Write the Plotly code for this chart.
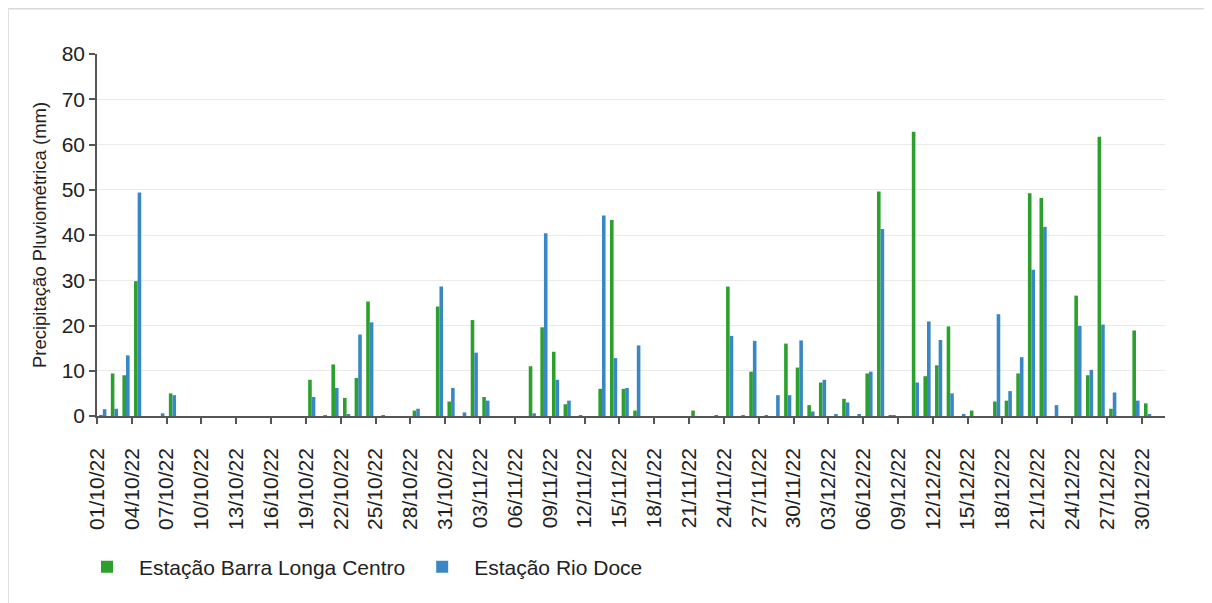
import plotly.graph_objects as go
import pandas as pd

# Daily rainfall (mm), 01/10/2022 .. 31/12/2022
dates = pd.date_range("2022-10-01", "2022-12-31", freq="D")

barra_longa = [
    0.2, 9.4, 9.0, 29.8, 0, 0, 5.0, 0, 0, 0,          # 01-10 Oct
    0, 0, 0, 0, 0, 0, 0, 0, 8.0, 0,                   # 11-20 Oct
    11.4, 4.0, 8.4, 25.3, 0, 0, 0, 1.2, 0, 24.2,      # 21-30 Oct
    3.2,                                              # 31 Oct
    0, 21.2, 4.2, 0, 0, 0, 11.0, 19.6, 14.2, 2.6,     # 01-10 Nov
    0, 0, 6.0, 43.3, 6.0, 1.2, 0, 0, 0, 0,            # 11-20 Nov
    1.2, 0, 0.2, 28.6, 0, 9.8, 0, 0, 16.0, 10.7,      # 21-30 Nov
    2.4, 7.4, 0, 3.8, 0, 9.4, 49.6, 0.2, 0, 62.8,     # 01-10 Dec
    8.8, 11.2, 19.8, 0, 1.2, 0, 3.2, 3.4, 9.4, 49.2,  # 11-20 Dec
    48.2, 0, 0, 26.6, 9.0, 61.7, 1.6, 0, 18.9, 2.8,   # 21-30 Dec
    0,                                                # 31 Dec
]

rio_doce = [
    1.5, 1.6, 13.4, 49.4, 0, 0.6, 4.6, 0, 0, 0,
    0, 0, 0, 0, 0, 0, 0, 0, 4.2, 0.2,
    6.2, 0.4, 18.0, 20.7, 0.2, 0, 0, 1.6, 0, 28.6,
    6.2,
    0.8, 14.0, 3.4, 0, 0, 0, 0.6, 40.4, 8.0, 3.4,
    0.2, 0, 44.3, 12.8, 6.2, 15.6, 0, 0, 0, 0,
    0, 0, 0, 17.7, 0.2, 16.6, 0.2, 4.6, 4.6, 16.7,
    1.0, 8.0, 0.3, 3.0, 0.3, 9.8, 41.3, 0.2, 0, 7.4,
    20.9, 16.8, 5.0, 0.4, 0, 0, 22.5, 5.5, 13.0, 32.3,
    41.8, 2.4, 0, 19.9, 10.2, 20.2, 5.2, 0, 3.4, 0.3,
    0,
]

series_names = ["Estação Barra Longa Centro", "Estação Rio Doce"]
series_colors = ["#2ca02c", "#3a87c6"]

fig = go.Figure()
for name, vals, col in zip(series_names, [barra_longa, rio_doce], series_colors):
    fig.add_trace(go.Bar(
        x=dates, y=vals, name=name, marker_color=col, marker_line_width=0,
        xperiod=86400000, xperiodalignment="middle",
    ))

FONT = "Liberation Sans, Arial, sans-serif"
L, T, PW, PH = 89, 46, 1068, 362

fig.update_layout(
    width=1212, height=603,
    margin=dict(l=L, r=1212 - L - PW, t=T, b=603 - T - PH),
    paper_bgcolor="white", plot_bgcolor="white",
    barmode="group", bargap=0.38, bargroupgap=0.0,
    font=dict(family=FONT, size=21, color="#222222"),
    showlegend=True,
    legend=dict(orientation="h", x=(67 - L) / PW, xanchor="left",
                y=(T + PH - 559) / PH, yanchor="middle",
                font=dict(family=FONT, size=21, color="#222222"),
                itemwidth=54, traceorder="normal", bgcolor="rgba(0,0,0,0)"),
    xaxis=dict(
        type="date",
        range=["2022-10-01", "2023-01-01"],
        tickmode="linear", tick0="2022-10-01", dtick=3 * 86400000,
        tickformat="%d/%m/%y", tickangle=-90,
        ticks="outside", ticklen=6, tickcolor="#555555", tickwidth=1.5,
        showline=True, linecolor="#555555", linewidth=1.5,
        showgrid=False, zeroline=False,
        ticklabelstandoff=16,
        tickfont=dict(family=FONT, size=21, color="#222222"),
    ),
    yaxis=dict(
        range=[0, 80], dtick=10, tick0=0,
        ticks="outside", ticklen=6, tickcolor="#555555", tickwidth=1.5,
        showline=True, linecolor="#555555", linewidth=1.5,
        showgrid=True, gridcolor="#ebebeb", gridwidth=1,
        zeroline=False,
        tickfont=dict(family=FONT, size=21, color="#222222"),
        title=dict(text="Precipitação Pluviométrica (mm)", standoff=10,
                   font=dict(family=FONT, size=18.5, color="#222222")),
    ),
    shapes=[dict(type="rect", xref="paper", yref="paper",
                 x0=(0 - L) / PW, x1=(1200 - L) / PW,
                 y0=(T + PH - 640) / PH, y1=(T + PH - 0.75) / PH,
                 line=dict(color="#d9d9d9", width=1.5), layer="below")],
)

fig.write_html("out.html")
